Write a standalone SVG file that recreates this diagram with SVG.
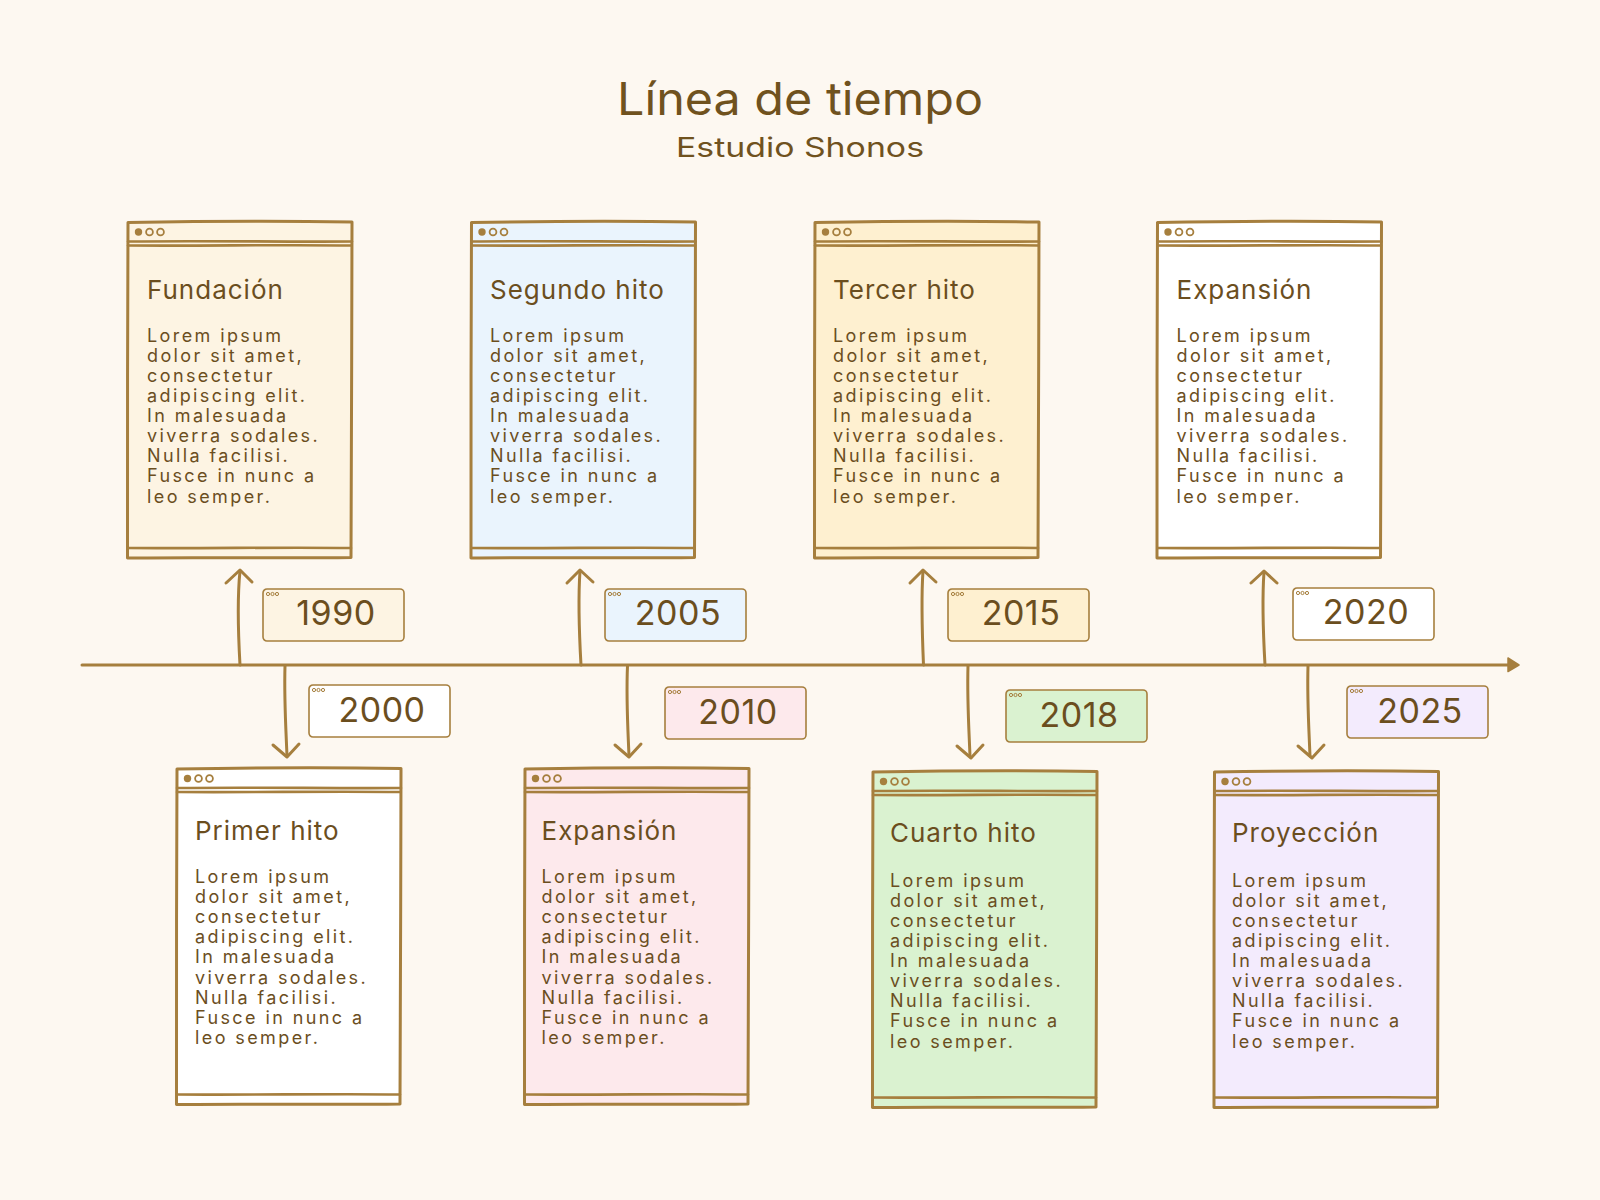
<svg xmlns="http://www.w3.org/2000/svg" xmlns:xlink="http://www.w3.org/1999/xlink" width="1600" height="1200" viewBox="0 0 1600 1200">
<style>
.frame{stroke:#A67F3E;stroke-width:3;stroke-linejoin:round;stroke-linecap:round}
.ln{fill:none;stroke:#A67F3E;stroke-width:2.6;stroke-linecap:round}
.dotf{fill:#A67F3E}
.doto{fill:none;stroke:#A67F3E;stroke-width:1.8}
.ybox{stroke:#A67F3E;stroke-width:1.6}
.ydot{fill:none;stroke:#A67F3E;stroke-width:1}
.h1{font-family:Inter,Lato,"Liberation Sans",sans-serif;font-size:45px;fill:#70521E;text-anchor:middle}
.h2{font-family:Inter,Lato,"Liberation Sans",sans-serif;font-size:27px;fill:#70521E;text-anchor:middle}
.ct{font-family:Inter,Lato,"Liberation Sans",sans-serif;font-size:26px;letter-spacing:1px;fill:#6B4E1E}
.bd{font-family:Inter,Lato,"Liberation Sans",sans-serif;font-size:18px;letter-spacing:2.4px;fill:#6B4E1E}
.yr{font-family:Inter,Lato,"Liberation Sans",sans-serif;font-size:34px;letter-spacing:0.5px;fill:#6B4E1E;text-anchor:middle}
.conn{fill:none;stroke:#A67F3E;stroke-width:3;stroke-linecap:round;stroke-linejoin:round}
</style>
<defs>
<g id="cardframe">
<path class="frame" d="M0.5 1 C60 0 160 -0.5 224.5 0.5 C225 110 223 230 223.5 336 C150 337 70 335.5 0 336.5 C0.5 230 -0.5 110 0.5 1 Z"/>
<path class="ln" d="M0.5 20 C80 19 150 20.5 224.5 20"/>
<path class="ln" d="M0.5 24 C80 24.6 150 23 224 24"/>
<path class="ln" d="M0.5 326.5 C80 327.2 150 325.5 223.5 326.5"/>
<circle class="dotf" cx="11" cy="10.5" r="3.7"/>
<circle class="doto" cx="22" cy="10.5" r="3.4"/>
<circle class="doto" cx="33" cy="10.5" r="3.4"/>
</g>
<g id="yearframe">
<rect class="ybox" x="0" y="0" width="141" height="52" rx="4"/>
<circle class="ydot" cx="5" cy="5" r="1.6" fill="#A67F3E"/>
<circle class="ydot" cx="9.5" cy="5" r="1.6"/>
<circle class="ydot" cx="14" cy="5" r="1.6"/>
</g>
</defs>
<rect x="0" y="0" width="1600" height="1200" fill="#FDF8F1"/>
<g id="title">
<text class="h1" x="800" y="115" textLength="366" lengthAdjust="spacingAndGlyphs">Línea de tiempo</text>
<text class="h2" x="800" y="157" textLength="248" lengthAdjust="spacingAndGlyphs">Estudio Shonos</text>
</g>
<g id="connectors">
<path class="conn" d="M82 665 L1508 665"/>
<polygon points="1508,658 1519,665 1508,671.5" fill="#A67F3E" stroke="#A67F3E" stroke-width="1.5" stroke-linejoin="round"/>
<path class="conn" d="M240 665 C238 630 237 600 240 571"/>
<path class="conn" d="M226 583 L240 570 L252 582"/>
<path class="conn" d="M581 665 C579 630 578 600 580 571"/>
<path class="conn" d="M567 583 L580 570 L593 582"/>
<path class="conn" d="M923.5 665 C922 630 921 600 923 571"/>
<path class="conn" d="M910 583 L923 570 L936 582"/>
<path class="conn" d="M1265 665 C1263 630 1262 600 1264 572"/>
<path class="conn" d="M1251 583 L1264 571 L1277 583"/>
<path class="conn" d="M285 666 C284 700 286 730 287 756"/>
<path class="conn" d="M273 745 L287 757 L299 744"/>
<path class="conn" d="M627.5 666 C626 700 628 730 629 756"/>
<path class="conn" d="M615 745 L629 757 L641 744"/>
<path class="conn" d="M968 666 C967 700 969 730 970 756"/>
<path class="conn" d="M957 746 L971 758 L983 745"/>
<path class="conn" d="M1308 666 C1307 700 1309 730 1310 756"/>
<path class="conn" d="M1298 746 L1312 758 L1324 745"/>
</g>
<g id="card-fundacion">
<use xlink:href="#cardframe" href="#cardframe" x="127.5" y="221.5" fill="#FDF4E3"/>
<text class="ct" x="147" y="299">Fundación</text>
<text class="bd" x="147" y="341.7"><tspan x="147">Lorem ipsum</tspan><tspan x="147" dy="20.1">dolor sit amet,</tspan><tspan x="147" dy="20.1">consectetur</tspan><tspan x="147" dy="20.1">adipiscing elit.</tspan><tspan x="147" dy="20.1">In malesuada</tspan><tspan x="147" dy="20.1">viverra sodales.</tspan><tspan x="147" dy="20.1">Nulla facilisi.</tspan><tspan x="147" dy="20.1">Fusce in nunc a</tspan><tspan x="147" dy="20.1">leo semper.</tspan></text>
</g>
<g id="card-segundo">
<use xlink:href="#cardframe" href="#cardframe" x="471" y="221.5" fill="#EAF4FD"/>
<text class="ct" x="490" y="299">Segundo hito</text>
<text class="bd" x="490" y="341.7"><tspan x="490">Lorem ipsum</tspan><tspan x="490" dy="20.1">dolor sit amet,</tspan><tspan x="490" dy="20.1">consectetur</tspan><tspan x="490" dy="20.1">adipiscing elit.</tspan><tspan x="490" dy="20.1">In malesuada</tspan><tspan x="490" dy="20.1">viverra sodales.</tspan><tspan x="490" dy="20.1">Nulla facilisi.</tspan><tspan x="490" dy="20.1">Fusce in nunc a</tspan><tspan x="490" dy="20.1">leo semper.</tspan></text>
</g>
<g id="card-tercer">
<use xlink:href="#cardframe" href="#cardframe" x="814.5" y="221.5" fill="#FEF0D0"/>
<text class="ct" x="833" y="299">Tercer hito</text>
<text class="bd" x="833" y="341.7"><tspan x="833">Lorem ipsum</tspan><tspan x="833" dy="20.1">dolor sit amet,</tspan><tspan x="833" dy="20.1">consectetur</tspan><tspan x="833" dy="20.1">adipiscing elit.</tspan><tspan x="833" dy="20.1">In malesuada</tspan><tspan x="833" dy="20.1">viverra sodales.</tspan><tspan x="833" dy="20.1">Nulla facilisi.</tspan><tspan x="833" dy="20.1">Fusce in nunc a</tspan><tspan x="833" dy="20.1">leo semper.</tspan></text>
</g>
<g id="card-expansion1">
<use xlink:href="#cardframe" href="#cardframe" x="1157" y="221.5" fill="#FFFFFF"/>
<text class="ct" x="1176.5" y="299">Expansión</text>
<text class="bd" x="1176.5" y="341.7"><tspan x="1176.5">Lorem ipsum</tspan><tspan x="1176.5" dy="20.1">dolor sit amet,</tspan><tspan x="1176.5" dy="20.1">consectetur</tspan><tspan x="1176.5" dy="20.1">adipiscing elit.</tspan><tspan x="1176.5" dy="20.1">In malesuada</tspan><tspan x="1176.5" dy="20.1">viverra sodales.</tspan><tspan x="1176.5" dy="20.1">Nulla facilisi.</tspan><tspan x="1176.5" dy="20.1">Fusce in nunc a</tspan><tspan x="1176.5" dy="20.1">leo semper.</tspan></text>
</g>
<g id="card-primer">
<use xlink:href="#cardframe" href="#cardframe" x="176.5" y="768" fill="#FFFFFF"/>
<text class="ct" x="195" y="839.5">Primer hito</text>
<text class="bd" x="195" y="883"><tspan x="195">Lorem ipsum</tspan><tspan x="195" dy="20.1">dolor sit amet,</tspan><tspan x="195" dy="20.1">consectetur</tspan><tspan x="195" dy="20.1">adipiscing elit.</tspan><tspan x="195" dy="20.1">In malesuada</tspan><tspan x="195" dy="20.1">viverra sodales.</tspan><tspan x="195" dy="20.1">Nulla facilisi.</tspan><tspan x="195" dy="20.1">Fusce in nunc a</tspan><tspan x="195" dy="20.1">leo semper.</tspan></text>
</g>
<g id="card-expansion2">
<use xlink:href="#cardframe" href="#cardframe" x="524.5" y="768" fill="#FDE9EC"/>
<text class="ct" x="541.5" y="839.5">Expansión</text>
<text class="bd" x="541.5" y="883"><tspan x="541.5">Lorem ipsum</tspan><tspan x="541.5" dy="20.1">dolor sit amet,</tspan><tspan x="541.5" dy="20.1">consectetur</tspan><tspan x="541.5" dy="20.1">adipiscing elit.</tspan><tspan x="541.5" dy="20.1">In malesuada</tspan><tspan x="541.5" dy="20.1">viverra sodales.</tspan><tspan x="541.5" dy="20.1">Nulla facilisi.</tspan><tspan x="541.5" dy="20.1">Fusce in nunc a</tspan><tspan x="541.5" dy="20.1">leo semper.</tspan></text>
</g>
<g id="card-cuarto">
<use xlink:href="#cardframe" href="#cardframe" x="872.5" y="771" fill="#DAF2D0"/>
<text class="ct" x="890" y="842">Cuarto hito</text>
<text class="bd" x="890" y="886.7"><tspan x="890">Lorem ipsum</tspan><tspan x="890" dy="20.1">dolor sit amet,</tspan><tspan x="890" dy="20.1">consectetur</tspan><tspan x="890" dy="20.1">adipiscing elit.</tspan><tspan x="890" dy="20.1">In malesuada</tspan><tspan x="890" dy="20.1">viverra sodales.</tspan><tspan x="890" dy="20.1">Nulla facilisi.</tspan><tspan x="890" dy="20.1">Fusce in nunc a</tspan><tspan x="890" dy="20.1">leo semper.</tspan></text>
</g>
<g id="card-proyeccion">
<use xlink:href="#cardframe" href="#cardframe" x="1214" y="771" fill="#F3EBFD"/>
<text class="ct" x="1232" y="842">Proyección</text>
<text class="bd" x="1232" y="886.7"><tspan x="1232">Lorem ipsum</tspan><tspan x="1232" dy="20.1">dolor sit amet,</tspan><tspan x="1232" dy="20.1">consectetur</tspan><tspan x="1232" dy="20.1">adipiscing elit.</tspan><tspan x="1232" dy="20.1">In malesuada</tspan><tspan x="1232" dy="20.1">viverra sodales.</tspan><tspan x="1232" dy="20.1">Nulla facilisi.</tspan><tspan x="1232" dy="20.1">Fusce in nunc a</tspan><tspan x="1232" dy="20.1">leo semper.</tspan></text>
</g>
<g id="year-1990">
<use xlink:href="#yearframe" href="#yearframe" x="263" y="589" fill="#FDF4E3"/>
<text class="yr" x="336" y="625">1990</text>
</g>
<g id="year-2005">
<use xlink:href="#yearframe" href="#yearframe" x="605" y="589" fill="#EAF4FD"/>
<text class="yr" x="678" y="625">2005</text>
</g>
<g id="year-2015">
<use xlink:href="#yearframe" href="#yearframe" x="948" y="589" fill="#FEF0D0"/>
<text class="yr" x="1021" y="625">2015</text>
</g>
<g id="year-2020">
<use xlink:href="#yearframe" href="#yearframe" x="1293" y="588" fill="#FFFFFF"/>
<text class="yr" x="1366" y="624">2020</text>
</g>
<g id="year-2000">
<use xlink:href="#yearframe" href="#yearframe" x="309" y="685" fill="#FFFFFF"/>
<text class="yr" x="382" y="722">2000</text>
</g>
<g id="year-2010">
<use xlink:href="#yearframe" href="#yearframe" x="665" y="687" fill="#FDE9EC"/>
<text class="yr" x="738" y="724">2010</text>
</g>
<g id="year-2018">
<use xlink:href="#yearframe" href="#yearframe" x="1006" y="690" fill="#DAF2D0"/>
<text class="yr" x="1079" y="727">2018</text>
</g>
<g id="year-2025">
<use xlink:href="#yearframe" href="#yearframe" x="1347" y="686" fill="#F3EBFD"/>
<text class="yr" x="1420" y="723">2025</text>
</g>
</svg>
